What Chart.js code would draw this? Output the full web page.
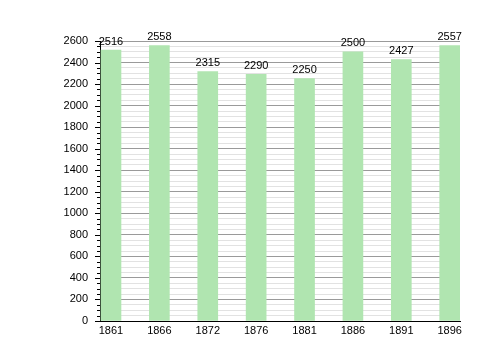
<!DOCTYPE html>
<html>
<head>
<meta charset="utf-8">
<script src="https://cdn.jsdelivr.net/npm/chart.js@4"></script>
<style>
  html, body { margin: 0; padding: 0; background: #fff; }
  #wrap { width: 500px; height: 360px; }
</style>
</head>
<body>
<div id="wrap"><canvas id="chart"></canvas></div>
<script>
const years = ['1861', '1866', '1872', '1876', '1881', '1886', '1891', '1896']
const population = [2516, 2558, 2315, 2290, 2250, 2500, 2427, 2557]
const yMax = 2600
const majorStep = 200
const minorStep = 50

const font = { family: '"Liberation Sans", Arial, sans-serif', size: 11 }

// value labels above each bar
const barLabels = {
  id: 'barLabels',
  afterDatasetsDraw(chart) {
    const ctx = chart.ctx
    const meta = chart.getDatasetMeta(0)
    ctx.save()
    ctx.font = `${font.size}px ${font.family}`
    ctx.fillStyle = '#000'
    ctx.textAlign = 'center'
    ctx.textBaseline = 'bottom'
    meta.data.forEach((bar, i) => {
      ctx.fillText(String(population[i]), bar.x, bar.y - 3)
    })
    ctx.restore()
  }
}

// tick marks on the y axis: long for major, short for minor
const yTickMarks = {
  id: 'yTickMarks',
  afterDraw(chart) {
    const ctx = chart.ctx
    const y = chart.scales.y
    const x0 = chart.chartArea.left
    ctx.save()
    ctx.strokeStyle = '#000'
    ctx.lineWidth = 1
    y.ticks.forEach(t => {
      const py = Math.round(y.getPixelForValue(t.value)) + 0.5
      const len = t.value % majorStep === 0 ? 5 : 3
      ctx.beginPath()
      ctx.moveTo(x0 - len, py)
      ctx.lineTo(x0, py)
      ctx.stroke()
    })
    ctx.restore()
  }
}

new Chart(document.getElementById('chart'), {
  type: 'bar',
  data: {
    datasets: [{
      data: population.map((v, i) => ({ x: i, y: v })),
      backgroundColor: '#b0e5b0',
      borderWidth: 0,
      barThickness: 20,
    }]
  },
  options: {
    responsive: true,
    maintainAspectRatio: false,
    animation: false,
    layout: { padding: { top: 41, left: 0, right: 40, bottom: 0 } },
    plugins: {
      legend: { display: false },
      tooltip: { enabled: false },
    },
    scales: {
      x: {
        type: 'linear',
        offset: false,
        min: -0.227,
        max: 7.213,
        afterBuildTicks(scale) {
          scale.ticks = years.map((_, i) => ({ value: i }))
        },
        afterFit(scale) { scale.height = 39 },
        grid: { display: false, drawTicks: false, offset: false },
        border: { color: '#000', width: 1 },
        ticks: {
          color: '#000',
          font,
          padding: 3,
          maxRotation: 0,
          autoSkip: false,
          callback: v => years[v],
        },
      },
      y: {
        min: 0,
        max: yMax,
        afterFit(scale) { scale.width = 100 },
        grid: {
          drawTicks: false,
          color: ctx => (ctx.tick && ctx.tick.value % majorStep === 0) ? '#9a9a9a' : '#e2e2e2',
        },
        border: { color: '#000', width: 1 },
        ticks: {
          stepSize: minorStep,
          autoSkip: false,
          color: '#000',
          font,
          padding: 12,
          callback: v => (v % majorStep === 0 ? v : ''),
        },
      },
    },
  },
  plugins: [barLabels, yTickMarks],
})
</script>
</body>
</html>
